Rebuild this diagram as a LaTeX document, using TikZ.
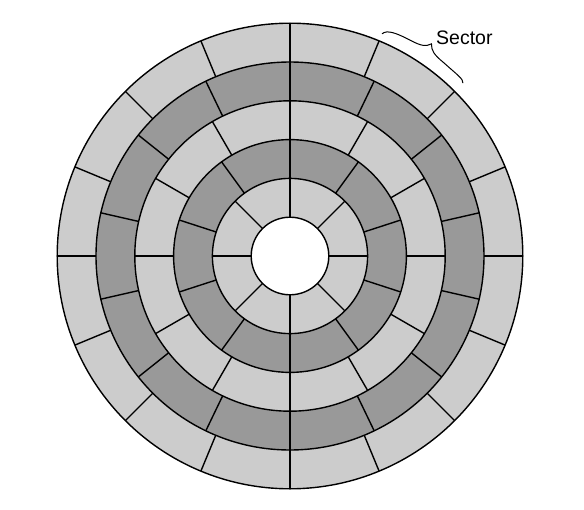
\documentclass[tikz,border=0pt]{standalone}
\usepackage{fontspec}
\setmainfont{Liberation Sans}
\definecolor{lightsec}{RGB}{204,204,204}
\definecolor{darksec}{RGB}{153,153,153}
\begin{document}
\begin{tikzpicture}[x=1pt,y=1pt,
  ringline/.style={line width=1.4pt,black},
  bracestyle/.style={line width=1pt,black},
  labeltext/.style={font=\fontsize{19.5}{22}\selectfont,inner sep=0pt,anchor=base west}]
\useasboundingbox (-290,-253) rectangle (294,256);
\def\R{38.8}
% fills
\fill[lightsec] (0,0) circle (6*\R);
\fill[darksec,even odd rule] (0,0) circle (5*\R) circle (4*\R);
\fill[darksec,even odd rule] (0,0) circle (3*\R) circle (2*\R);
\fill[white] (0,0) circle (\R);
% sector boundaries
\foreach \k/\n in {1/8,2/10,3/12,4/14,5/16}{
  \foreach \i in {1,...,\n}{
    \pgfmathsetmacro\ang{90+360*\i/\n}
    \pgfmathsetmacro\ra{\k*\R}
    \pgfmathsetmacro\rb{(\k+1)*\R}
    \draw[ringline] (\ang:\ra) -- (\ang:\rb);
  }
}
% track circles
\foreach \k in {1,...,6}{
  \draw[ringline] (0,0) circle (\k*\R);
}
% brace over one sector
\draw[bracestyle] (67.5:240.5) .. controls (66.8:246.5) and (64.5:247) .. (61:247)
  .. controls (58:247.5) and (57:249.5) .. (56.3:255)
  .. controls (55.5:249.5) and (54.5:247.5) .. (51.5:247)
  .. controls (47.5:246.5) and (45.5:248) .. (45:244.5);
\node[labeltext] (sector) at (146,211) {Sector};
\end{tikzpicture}
\end{document}
